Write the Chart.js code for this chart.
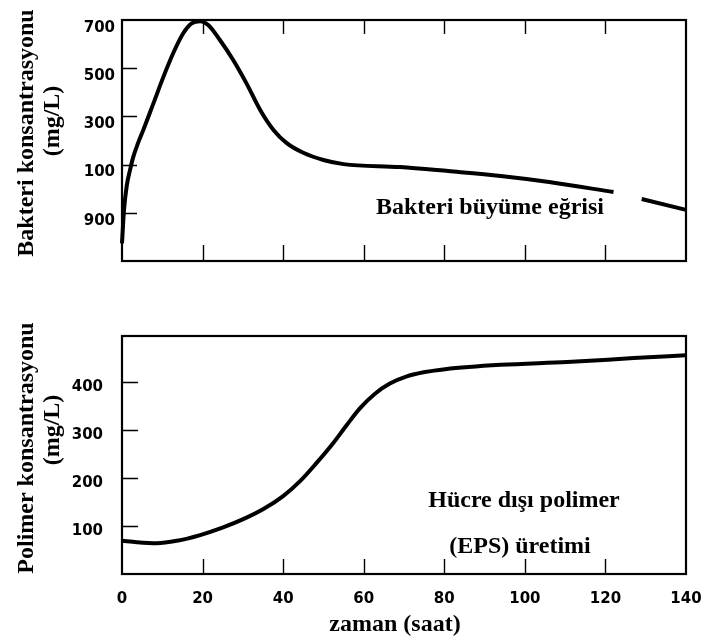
<!DOCTYPE html>
<html>
<head>
<meta charset="utf-8">
<script src="https://cdn.jsdelivr.net/npm/chart.js@4.4.1/dist/chart.umd.min.js"></script>
<style>
  html, body { margin: 0; padding: 0; background: #fff; }
  #wrap { position: relative; width: 704px; height: 642px; }
  canvas { position: absolute; left: 0; }
  #growth { top: 0; }
  #polymer { top: 300px; }
</style>
</head>
<body>
<div id="wrap">
  <canvas id="growth" width="704" height="300"></canvas>
  <canvas id="polymer" width="704" height="342"></canvas>
</div>
<script>
// Time axis (hours)
const timeTicks = [0, 20, 40, 60, 80, 100, 120, 140];

// Bacteria growth curve (values in the upper panel's axis units)
const bacteriaHours = [0, 0.5, 1.2, 2, 2.8, 4, 5.3, 7.8, 10.3, 12.7, 15.2, 17.3, 19.4, 21.4, 24.3, 27.6, 30.9, 34.3, 37.6, 40.9, 45, 50, 55, 69, 81, 94, 106, 122, 125, 129, 140];
const bacteriaValues = [-227, -88, 15, 78, 132, 190, 244, 354, 465, 562, 645, 686, 695, 679, 617, 534, 437, 327, 244, 189, 149, 119, 102, 90, 73, 53, 28, -14, null, -43, -88];
const bacteriaTickValues = [-300, -100, 100, 300, 500, 700];
const bacteriaTickLabels = ['', '900', '100', '300', '500', '700'];

// Extracellular polymer (EPS) production, mg/L
const polymerHours = [0, 3.7, 8.6, 13.6, 19.4, 25.1, 30.1, 35.1, 40, 44.2, 48.3, 52.4, 55.8, 59.1, 62.8, 66.5, 70.7, 75.2, 80.2, 94, 110.5, 127, 140];
const polymerValues = [69, 66, 64, 69, 81, 97, 114, 135, 162, 193, 231, 272, 310, 345, 375, 396, 411, 420, 426, 435, 441, 449, 455];
const polymerTickValues = [100, 200, 300, 400];
const polymerTickLabels = ['100', '200', '300', '400'];

const SERIF = 'bold 24px "Liberation Serif", "Times New Roman", serif';
const tickFont = { family: 'DejaVu Sans', weight: 'bold', size: 15 };

const toPoints = (xs, ys) => xs.map((x, i) => ({ x, y: ys[i] }));

// Draws the frame, inward tick marks and the free text of each panel
const panelDecor = {
  id: 'panelDecor',
  afterDatasetsDraw(chart, args, o) {
    const { ctx, chartArea: a, scales: { x, y } } = chart;
    ctx.save();
    ctx.strokeStyle = '#000';
    ctx.lineWidth = 1.4;
    ctx.beginPath();
    (o.leftTicks || []).forEach(v => {
      const py = Math.round(y.getPixelForValue(v)) + 0.5;
      ctx.moveTo(a.left, py); ctx.lineTo(a.left + o.leftLen, py);
    });
    (o.bottomTicks || []).forEach(v => {
      const px = Math.round(x.getPixelForValue(v)) + 0.5;
      ctx.moveTo(px, a.bottom); ctx.lineTo(px, a.bottom - o.bottomLen);
    });
    (o.topTicks || []).forEach(v => {
      const px = Math.round(x.getPixelForValue(v)) + 0.5;
      ctx.moveTo(px, a.top); ctx.lineTo(px, a.top + o.topLen);
    });
    ctx.stroke();
    ctx.lineWidth = 2.2;
    ctx.strokeRect(a.left, a.top, a.right - a.left, a.bottom - a.top);

    ctx.fillStyle = '#000';
    ctx.textAlign = 'center';
    ctx.textBaseline = 'middle';
    (o.texts || []).forEach(t => {
      ctx.save();
      ctx.font = t.font || SERIF;
      ctx.translate(t.x, t.y);
      if (t.rot) ctx.rotate(t.rot);
      ctx.fillText(t.text, 0, 0);
      ctx.restore();
    });
    ctx.restore();
  }
};

const lineStyle = {
  borderColor: '#000',
  borderWidth: 4,
  pointRadius: 0,
  cubicInterpolationMode: 'monotone',
  spanGaps: false,
  clip: false
};

// Scales keep their fitted size; labels may overhang into the layout padding
const noScalePadding = s => { s.paddingLeft = 0; s.paddingRight = 0; s.paddingTop = 0; s.paddingBottom = 0; };

const hiddenGrid = { display: false, drawTicks: false };

const baseX = (height, ticks) => ({
  type: 'linear', min: 0, max: 140,
  grid: hiddenGrid,
  border: { display: false },
  ticks,
  afterBuildTicks: s => { s.ticks = timeTicks.map(v => ({ value: v })); },
  afterFit: s => { s.height = height; noScalePadding(s); }
});

const baseY = (min, max, values, labels, padding, labelOffset) => ({
  type: 'linear', min, max,
  grid: hiddenGrid,
  border: { display: false },
  afterBuildTicks: s => { s.ticks = values.map(v => ({ value: v })); },
  afterFit: s => { s.width = 122; noScalePadding(s); },
  ticks: {
    autoSkip: false, padding, labelOffset, color: '#000', font: tickFont,
    callback: v => labels[values.indexOf(v)]
  }
});

// Upper panel: bacterial growth curve
new Chart(document.getElementById('growth'), {
  type: 'line',
  data: { datasets: [Object.assign({ data: toPoints(bacteriaHours, bacteriaValues) }, lineStyle)] },
  plugins: [panelDecor],
  options: {
    responsive: false,
    animation: false,
    layout: { padding: { top: 20, right: 18, left: 0, bottom: 0 } },
    plugins: {
      legend: { display: false },
      tooltip: { enabled: false },
      panelDecor: {
        leftTicks: [-100, 100, 300, 500], leftLen: 15,
        bottomTicks: [20, 40, 60, 80, 100, 120], bottomLen: 16,
        topTicks: [20, 40, 60, 80, 100, 120], topLen: 14,
        texts: [
          { text: 'Bakteri konsantrasyonu', x: 27, y: 133, rot: -Math.PI / 2 },
          { text: '(mg/L)', x: 53, y: 121, rot: -Math.PI / 2 },
          { text: 'Bakteri büyüme eğrisi', x: 490, y: 208 }
        ]
      }
    },
    scales: {
      x: baseX(39, { display: false }),
      y: baseY(-300, 700, bacteriaTickValues, bacteriaTickLabels, 7, 8)
    }
  }
});

// Lower panel: extracellular polymer production
new Chart(document.getElementById('polymer'), {
  type: 'line',
  data: { datasets: [Object.assign({ data: toPoints(polymerHours, polymerValues) }, lineStyle)] },
  plugins: [panelDecor],
  options: {
    responsive: false,
    animation: false,
    layout: { padding: { top: 36, right: 18, left: 0, bottom: 0 } },
    plugins: {
      legend: { display: false },
      tooltip: { enabled: false },
      panelDecor: {
        leftTicks: [100, 200, 300, 400], leftLen: 16,
        bottomTicks: [20, 40, 60, 80, 100, 120], bottomLen: 15,
        texts: [
          { text: 'Polimer konsantrasyonu', x: 27, y: 148, rot: -Math.PI / 2 },
          { text: '(mg/L)', x: 53, y: 130, rot: -Math.PI / 2 },
          { text: 'Hücre dışı polimer', x: 524, y: 201 },
          { text: '(EPS) üretimi', x: 520, y: 247 },
          { text: 'zaman (saat)', x: 395, y: 325 }
        ]
      }
    },
    scales: {
      x: baseX(68, { autoSkip: false, maxRotation: 0, padding: 16, color: '#000', font: tickFont }),
      y: baseY(0, 495, polymerTickValues, polymerTickLabels, 19, 5)
    }
  }
});
</script>
</body>
</html>
